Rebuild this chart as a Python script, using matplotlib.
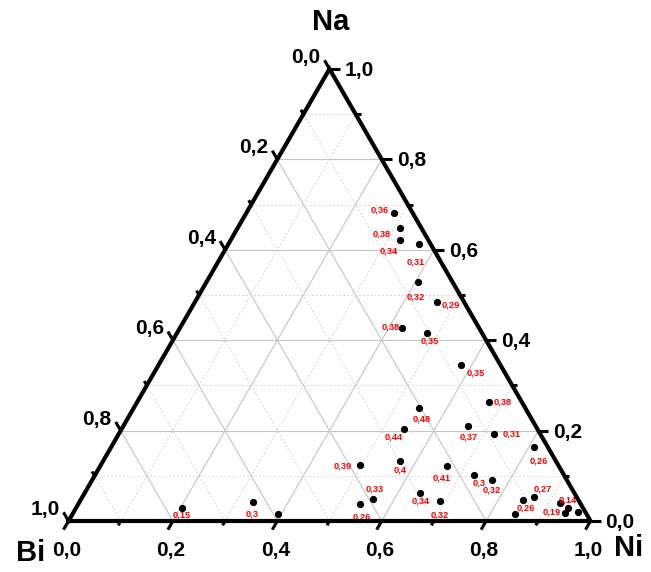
import numpy as np
import matplotlib.pyplot as plt

plt.rcParams['font.family'] = ['Liberation Sans', 'DejaVu Sans']
plt.rcParams['font.weight'] = 'bold'

# mole fractions of each sample (Bi = 1 - Na - Ni)
na = [0.681, 0.649, 0.622, 0.612, 0.528, 0.484, 0.428, 0.415, 0.345, 0.263,
      0.251, 0.204, 0.210, 0.192, 0.163, 0.124, 0.133, 0.122, 0.049, 0.037,
      0.061, 0.044, 0.102, 0.091, 0.052, 0.047, 0.016, 0.039, 0.028, 0.017,
      0.021, 0.028, 0.041, 0.016]
ni = [0.283, 0.311, 0.324, 0.365, 0.405, 0.463, 0.425, 0.479, 0.579, 0.674,
      0.546, 0.540, 0.660, 0.719, 0.811, 0.496, 0.568, 0.664, 0.558, 0.540,
      0.642, 0.689, 0.726, 0.766, 0.866, 0.847, 0.848, 0.922, 0.942, 0.943,
      0.966, 0.203, 0.332, 0.394]
# value written next to each point ('' = none)
vals = ['0,36', '0,38', '0,34', '0,31', '0,32', '0,29', '0,38', '0,35', '0,35', '0,38',
        '0,48', '0,44', '0,37', '0,31', '0,26', '0,39', '0,4', '0,41', '0,33', '0,26',
        '0,34', '0,32', '0,3', '0,32', '0,27', '0,26', '', '0,14', '', '0,19',
        '', '0,15', '0,3', '']
# label offsets in pixels (dx, dy)
offs = [(-14, 3), (-19, -6), (-11, -11), (-3, -18), (-2, -15), (14, -3), (-11, 1), (3, -8),
        (15, -8), (14, 0), (3, -11), (-10, -8), (1, -11), (18, 0), (4, -14), (-17, -1),
        (0, -9), (-5, -12), (2, 10), (2, -13), (1, -8), (0, -14), (5, -8), (0, -10),
        (9, 8), (3, -8), (0, 0), (8, 3), (0, 0), (-13, 1), (0, 0), (0, -7), (0, -12), (0, 0)]

ticks = np.round(np.arange(0, 1.01, 0.2), 1)
minor = np.round(np.arange(0.1, 1.0, 0.2), 1)

H = np.sqrt(3) / 2
PX = 522.0  # pixels per unit side


def xy(n_i, n_a):
    n_i = np.asarray(n_i, float)
    n_a = np.asarray(n_a, float)
    return n_i + n_a / 2, n_a * H


def fmt(v):
    return f'{v:.1f}'.replace('.', ',')


fig = plt.figure(figsize=(6.51, 5.72), dpi=100)
ax = fig.add_axes([0, 0, 1, 1])
ax.set_xlim(-68.5 / PX, (651 - 68.5) / PX)
ax.set_ylim(-(572 - 521) / PX, 521 / PX)
ax.axis('off')

# grid
for v in np.round(np.arange(0.1, 1.0, 0.1), 1):
    solid = abs(v * 10 % 2) < 1e-6
    kw = dict(color='#c4c4c4', lw=0.8, zorder=1) if solid else \
        dict(color='#d6d6d6', lw=0.7, ls=(0, (2, 2)), zorder=1)
    # Na = v
    ax.plot(*xy([0, 1 - v], [v, v]), **kw)
    # Ni = v
    ax.plot(*xy([v, v], [0, 1 - v]), **kw)
    # Bi = v
    ax.plot(*xy([1 - v, 0], [0, 1 - v]), **kw)

# data points and values
px, py = xy(ni, na)
ax.plot(px, py, 'o', color='black', ms=4.2, zorder=3)
for x0, y0, s, (dx, dy) in zip(px, py, vals, offs):
    if s:
        ax.annotate(s, (x0, y0), xytext=(dx, dy), textcoords='offset pixels',
                    ha='center', va='center', color='red', fontsize=6.7,
                    fontweight='bold', zorder=4)

# triangle frame
tx, ty = xy([0, 1, 0, 0], [0, 0, 1, 0])
ax.plot(tx, ty, color='black', lw=3, solid_joinstyle='miter', zorder=6)

L_major = 10 / PX
L_minor = 5 / PX
tk = dict(color='black', lw=2.2, solid_capstyle='butt', zorder=6)
for t, L in [(t, L_major) for t in ticks] + [(t, L_minor) for t in minor]:
    # bottom axis (Ni), ticks down-left
    x0, y0 = xy(t, 0)
    ax.plot([x0, x0 - 0.5 * L], [y0, y0 - H * L], **tk)
    # right axis (Na), ticks to the right
    x0, y0 = xy(1 - t, t)
    ax.plot([x0, x0 + L], [y0, y0], **tk)
    # left axis (Bi), ticks up-left
    x0, y0 = xy(0, 1 - t)
    ax.plot([x0, x0 - 0.5 * L], [y0, y0 + H * L], **tk)

lab = dict(fontsize=15, fontweight='bold', textcoords='offset pixels')
for t in ticks:
    ax.annotate(fmt(t), xy(t, 0), xytext=(-2, -35), ha='center', va='baseline', **lab)
    ax.annotate(fmt(t), xy(1 - t, t), xytext=(15, -7), ha='left', va='baseline', **lab)
    ax.annotate(fmt(t), xy(0, 1 - t), xytext=(-9, 6), ha='right', va='baseline', **lab)

# corner names
name = dict(fontsize=21, fontweight='bold', textcoords='offset pixels',
            ha='center', va='center')
ax.annotate('Na', xy(0, 1), xytext=(1, 47), **name)
ax.annotate('Bi', xy(0, 0), xytext=(-38, -32), **name)
ax.annotate('Ni', xy(1, 0), xytext=(38, -27), **name)

fig.savefig('out.png', dpi=100)
